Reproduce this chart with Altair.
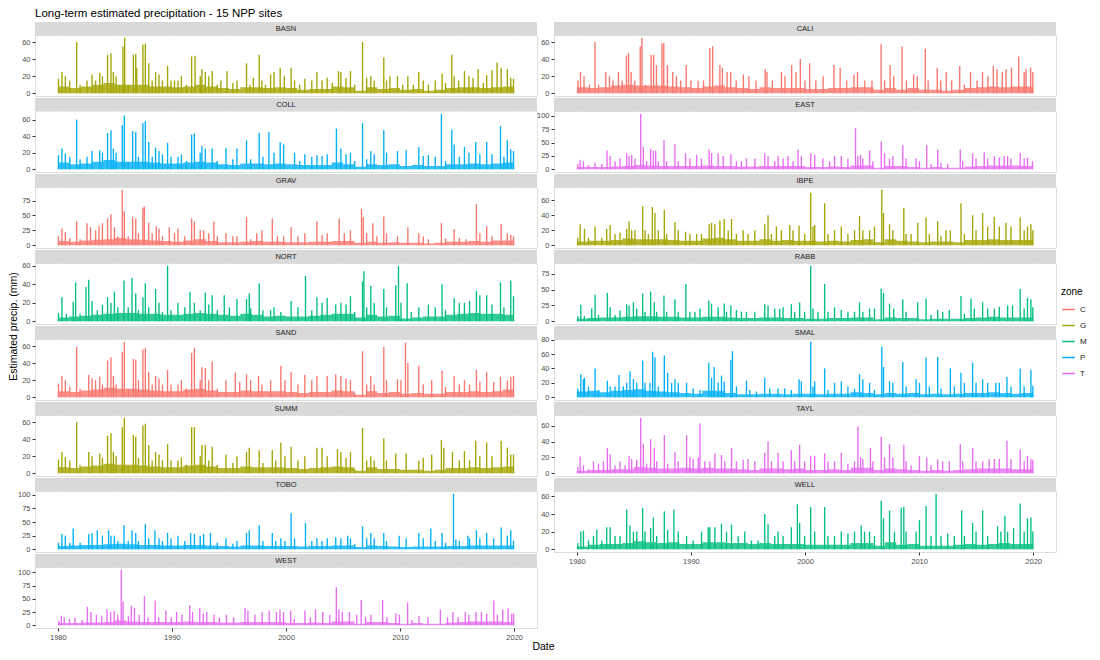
import altair as alt
import pandas as pd

TITLE = "Long-term estimated  precipitation - 15 NPP sites"
SITES = ["BASN", "CALI", "COLL", "EAST", "GRAV", "IBPE", "NORT", "RABB",
         "SAND", "SMAL", "SUMM", "TAYL", "TOBO", "WELL", "WEST"]
ZONE_OF = {"BASN": "G", "CALI": "C", "COLL": "P", "EAST": "T", "GRAV": "C",
           "IBPE": "G", "NORT": "M", "RABB": "M", "SAND": "C", "SMAL": "P",
           "SUMM": "G", "TAYL": "T", "TOBO": "P", "WELL": "M", "WEST": "T"}
ZONES = ["C", "G", "M", "P", "T"]
ZONE_COLORS = ["#F8766D", "#A3A500", "#00BF7D", "#00B0F6", "#E76BF3"]
TICK_STEP = {"BASN": 20, "CALI": 20, "COLL": 20, "EAST": 25, "GRAV": 25,
             "IBPE": 20, "NORT": 20, "RABB": 25, "SAND": 20, "SMAL": 20,
             "SUMM": 20, "TAYL": 20, "TOBO": 25, "WELL": 20, "WEST": 25}
X_TICKS = [1980, 1990, 2000, 2010, 2020]
X_MINOR = [1985, 1995, 2005, 2015]
YEARS = list(range(1980, 2020))

# (decimal year, estimated precip mm) of visible spikes
BASN = [(1980.06,17),(1980.36,25),(1980.66,20),(1981.05,15),(1981.65,60),(1981.95,10),(1982.56,15),(1983.0,22),(1983.31,15),(1983.67,24),(1983.91,20),(1984.36,45),(1984.66,47),(1984.87,25),(1985.11,20),(1985.41,10),(1985.71,55),(1985.86,65),(1986.17,10),(1986.62,45),(1986.83,46),(1986.92,30),(1987.46,57),(1987.67,58),(1987.97,35),(1988.27,15),(1988.57,25),(1988.87,22),(1989.17,15),(1989.62,32),(1989.92,15),(1990.23,15),(1990.53,15),(1990.83,20),(1991.28,10),(1991.73,43),(1992.03,44),(1992.48,20),(1992.63,28),(1992.93,25),(1993.23,20),(1993.53,26),(1993.98,10),(1994.29,15),(1994.83,26),(1995.34,12),(1995.7,15),(1996.54,35),(1996.84,10),(1997.14,18),(1997.65,45),(1997.89,15),(1998.2,10),(1998.65,22),(1998.95,25),(1999.49,30),(1999.85,20),(2000.45,30),(2000.75,15),(2001.2,10),(2001.65,17),(2002.26,15),(2002.71,25),(2003.16,15),(2003.61,18),(2004.06,12),(2004.6,26),(2004.81,25),(2005.26,18),(2005.65,26),(2006.02,10),(2006.71,60),(2007.07,18),(2007.43,20),(2007.73,15),(2008.57,42),(2008.81,15),(2009.11,20),(2009.77,20),(2010.23,10),(2010.68,20),(2011.16,10),(2011.64,25),(2012.03,15),(2012.48,10),(2013.08,15),(2013.68,23),(2013.98,12),(2014.53,45),(2014.74,20),(2015.13,15),(2015.64,26),(2016.03,20),(2016.39,18),(2016.84,28),(2017.29,12),(2017.59,21),(2018.05,27),(2018.5,36),(2018.86,30),(2019.4,28),(2019.7,18),(2019.94,17)]
CALI = [(1980.1,15),(1980.32,25),(1980.63,20),(1981.11,10),(1981.59,60),(1981.9,10),(1982.54,25),(1982.86,20),(1983.17,15),(1983.65,25),(1983.97,15),(1984.35,44),(1984.54,47),(1984.76,25),(1985.08,15),(1985.56,55),(1985.71,65),(1986.03,10),(1986.51,45),(1986.73,45),(1986.98,33),(1987.46,58),(1987.62,59),(1987.94,33),(1988.41,25),(1988.73,20),(1989.11,15),(1989.59,33),(1990.0,15),(1990.63,15),(1991.11,15),(1991.65,53),(1991.9,55),(1992.54,33),(1992.76,30),(1993.17,25),(1993.49,25),(1993.97,15),(1994.6,22),(1995.08,20),(1995.71,15),(1996.51,28),(1996.67,25),(1997.14,15),(1997.94,25),(1998.25,20),(1998.83,33),(1999.21,25),(1999.59,40),(2000.0,15),(2000.41,35),(2000.95,15),(2001.59,20),(2002.54,33),(2003.08,30),(2003.65,15),(2004.29,22),(2004.6,25),(2005.24,15),(2005.87,15),(2006.67,58),(2006.98,15),(2007.46,33),(2007.78,20),(2008.51,55),(2008.89,15),(2009.52,22),(2009.84,20),(2010.54,52),(2010.79,15),(2011.59,30),(2011.9,15),(2012.38,25),(2012.86,15),(2013.56,32),(2013.97,10),(2014.51,25),(2015.08,15),(2015.56,25),(2016.03,20),(2016.51,32),(2016.83,28),(2017.3,25),(2017.62,28),(2018.1,30),(2018.73,43),(2019.21,25),(2019.37,28),(2019.78,30),(2019.97,25)]
COLL = [(1980.06,17),(1980.36,25),(1980.66,19),(1981.05,15),(1981.65,60),(1981.95,12),(1982.56,15),(1983.0,22),(1983.67,23),(1983.91,20),(1984.36,44),(1984.66,47),(1984.87,25),(1985.11,20),(1985.65,53),(1985.83,65),(1986.17,8),(1986.56,46),(1986.83,45),(1987.07,15),(1987.46,56),(1987.67,58),(1987.97,33),(1988.27,15),(1988.57,26),(1988.87,22),(1989.17,18),(1989.62,32),(1989.92,15),(1990.53,15),(1990.83,18),(1991.28,10),(1991.73,42),(1991.97,43),(1992.48,20),(1992.63,28),(1992.93,25),(1993.53,25),(1993.98,10),(1994.74,26),(1995.34,12),(1995.7,25),(1996.54,35),(1996.9,12),(1997.65,44),(1997.98,15),(1998.5,45),(1998.95,20),(1999.49,33),(1999.79,30),(2000.75,20),(2001.2,10),(2001.65,18),(2002.26,15),(2002.71,17),(2003.16,16),(2003.61,18),(2004.42,49),(2004.81,25),(2005.26,18),(2005.65,20),(2006.02,10),(2006.71,56),(2007.07,12),(2007.43,22),(2007.73,18),(2008.57,47),(2008.81,20),(2009.77,22),(2010.53,23),(2011.64,27),(2012.03,16),(2012.48,17),(2013.08,15),(2013.62,67),(2013.98,10),(2014.53,48),(2014.74,30),(2015.19,15),(2015.64,27),(2016.03,20),(2016.63,33),(2016.99,18),(2017.59,33),(2018.05,18),(2018.8,52),(2019.1,15),(2019.4,35),(2019.7,24),(2019.94,22)]
EAST = [(1980.09,10),(1980.29,18),(1980.58,15),(1981.02,8),(1981.6,12),(1982.19,10),(1982.65,35),(1982.92,25),(1983.35,15),(1983.79,20),(1984.37,30),(1984.58,25),(1984.81,27),(1985.1,20),(1985.6,104),(1985.83,42),(1986.12,15),(1986.47,38),(1986.71,35),(1986.91,35),(1987.14,15),(1987.64,55),(1987.87,15),(1988.6,47),(1988.89,15),(1989.53,30),(1989.91,20),(1990.5,27),(1990.93,20),(1991.6,37),(1991.81,30),(1992.39,30),(1992.83,25),(1993.5,28),(1993.99,15),(1994.43,15),(1994.87,20),(1995.6,20),(1996.47,30),(1996.76,25),(1997.35,15),(1997.64,25),(1998.08,20),(1998.51,25),(1998.95,15),(1999.39,37),(1999.68,25),(2000.5,30),(2000.85,27),(2001.57,20),(2002.16,15),(2002.59,25),(2003.18,25),(2003.76,20),(2004.43,77),(2004.64,25),(2004.87,27),(2005.07,20),(2005.66,35),(2005.95,15),(2006.68,52),(2006.97,30),(2007.41,20),(2007.7,25),(2008.57,45),(2008.86,20),(2009.74,20),(2010.03,15),(2010.67,45),(2011.05,10),(2011.63,37),(2011.92,12),(2012.51,10),(2013.61,37),(2013.82,15),(2014.69,30),(2014.99,20),(2015.71,32),(2016.01,20),(2016.59,25),(2017.03,22),(2017.46,25),(2017.76,25),(2018.05,20),(2018.86,30),(2019.21,20),(2019.5,22),(2019.94,15)]
GRAV = [(1980.06,15),(1980.36,28),(1980.66,22),(1981.05,12),(1981.65,40),(1981.95,10),(1982.56,37),(1982.86,30),(1983.31,25),(1983.61,32),(1983.91,37),(1984.36,45),(1984.66,52),(1984.96,30),(1985.26,15),(1985.65,93),(1985.83,57),(1986.17,15),(1986.56,48),(1986.83,45),(1987.07,20),(1987.46,63),(1987.58,65),(1987.97,38),(1988.27,20),(1988.63,32),(1988.87,28),(1989.17,15),(1989.77,30),(1990.23,20),(1990.53,28),(1991.13,15),(1991.73,45),(1991.97,40),(1992.48,25),(1992.78,25),(1993.23,20),(1993.68,40),(1993.98,15),(1994.74,20),(1995.34,15),(1995.7,15),(1996.54,47),(1996.9,10),(1997.44,20),(1997.89,25),(1998.8,45),(1999.25,15),(1999.79,15),(2000.45,30),(2001.05,15),(2001.65,20),(2002.71,40),(2003.16,17),(2003.61,20),(2004.66,45),(2005.11,20),(2005.65,25),(2006.62,61),(2006.77,47),(2007.07,20),(2007.61,37),(2007.97,15),(2008.57,48),(2008.81,20),(2009.77,15),(2010.68,30),(2011.64,20),(2012.03,15),(2012.48,10),(2013.62,37),(2013.98,12),(2014.74,27),(2015.19,12),(2015.79,10),(2016.69,69),(2016.99,20),(2017.59,32),(2018.05,15),(2018.86,35),(2019.4,20),(2019.7,18),(2019.94,15)]
IBPE = [(1980.09,10),(1980.29,28),(1980.67,22),(1981.02,10),(1981.6,25),(1982.19,10),(1982.62,22),(1982.92,27),(1983.35,15),(1983.79,17),(1984.37,22),(1984.58,32),(1984.81,20),(1985.1,20),(1985.77,52),(1985.98,20),(1986.27,15),(1986.62,51),(1986.85,43),(1987.14,20),(1987.67,47),(1987.87,15),(1988.6,31),(1988.89,20),(1989.53,18),(1989.91,15),(1990.5,15),(1990.93,15),(1991.6,28),(1991.81,30),(1992.1,28),(1992.54,33),(1992.92,35),(1993.27,20),(1993.56,35),(1993.99,15),(1994.58,20),(1995.01,15),(1995.6,20),(1996.47,28),(1996.76,40),(1997.06,15),(1997.49,25),(1997.93,20),(1998.66,27),(1998.95,20),(1999.48,26),(1999.97,15),(2000.5,70),(2000.7,25),(2000.85,27),(2001.72,56),(2002.01,15),(2002.59,20),(2003.18,25),(2003.76,15),(2004.34,20),(2004.78,39),(2005.07,20),(2005.66,20),(2006.09,25),(2006.73,74),(2006.88,43),(2007.41,28),(2007.7,20),(2008.66,50),(2008.86,15),(2009.3,15),(2009.88,30),(2010.61,37),(2010.9,15),(2011.63,32),(2011.92,12),(2012.36,20),(2012.74,20),(2013.67,56),(2013.97,15),(2014.69,40),(2014.99,20),(2015.57,43),(2016.01,25),(2016.59,38),(2017.03,25),(2017.61,30),(2018.05,25),(2018.86,37),(2019.21,20),(2019.5,25),(2019.8,28),(2019.97,20)]
NORT = [(1980.06,9),(1980.36,26),(1980.75,8),(1981.35,21),(1981.56,42),(1981.95,8),(1982.47,37),(1982.71,45),(1983.0,22),(1983.46,12),(1983.91,18),(1984.36,26),(1984.66,20),(1984.96,32),(1985.26,15),(1985.8,44),(1986.17,15),(1986.5,47),(1986.83,30),(1987.07,12),(1987.46,26),(1987.67,41),(1987.97,15),(1988.57,35),(1988.87,20),(1989.17,10),(1989.62,60),(1989.92,12),(1990.53,20),(1991.13,15),(1991.58,32),(1991.97,20),(1992.48,12),(1992.93,31),(1993.23,18),(1993.53,28),(1993.98,12),(1994.59,28),(1995.04,15),(1995.7,24),(1996.54,24),(1996.78,30),(1996.9,14),(1997.65,41),(1997.98,12),(1998.65,12),(1998.95,15),(1999.55,10),(2000.45,22),(2001.05,15),(2001.71,49),(2002.26,12),(2002.71,26),(2003.16,20),(2003.61,25),(2004.36,18),(2004.81,20),(2005.26,18),(2005.65,27),(2006.02,10),(2006.71,43),(2006.83,54),(2007.07,15),(2007.43,38),(2007.73,20),(2008.57,35),(2008.81,15),(2009.62,39),(2009.86,60),(2010.08,20),(2010.62,41),(2010.98,10),(2011.64,15),(2012.48,18),(2013.08,15),(2013.68,40),(2013.98,12),(2014.74,25),(2015.19,20),(2015.64,20),(2016.09,22),(2016.69,33),(2016.99,28),(2017.59,28),(2018.05,18),(2018.8,42),(2019.1,15),(2019.7,44),(2019.94,27)]
RABB = [(1980.09,8),(1980.35,26),(1980.67,8),(1981.02,5),(1981.31,20),(1981.6,42),(1981.9,10),(1982.68,45),(1982.92,22),(1983.35,10),(1983.79,17),(1984.37,27),(1984.58,25),(1984.96,30),(1985.25,20),(1985.77,44),(1985.98,15),(1986.47,47),(1986.79,30),(1987.0,15),(1987.64,41),(1987.87,15),(1988.6,35),(1988.89,15),(1989.56,59),(1989.91,15),(1990.35,15),(1990.79,20),(1991.57,33),(1991.81,28),(1992.39,22),(1992.92,28),(1993.12,15),(1993.5,25),(1993.99,18),(1994.43,15),(1994.87,15),(1995.6,15),(1996.47,27),(1996.76,25),(1997.35,20),(1997.78,20),(1998.08,22),(1998.8,27),(1999.1,15),(1999.53,30),(1999.97,15),(2000.5,88),(2000.7,20),(2001.14,15),(2001.72,59),(2002.01,15),(2002.59,22),(2003.18,18),(2003.76,15),(2004.34,15),(2004.78,30),(2005.07,15),(2005.66,20),(2006.09,20),(2006.68,52),(2006.88,45),(2007.41,28),(2007.78,20),(2008.57,35),(2008.86,15),(2009.88,30),(2010.61,36),(2011.05,10),(2011.63,18),(2012.07,15),(2012.65,18),(2013.67,40),(2013.97,12),(2014.55,36),(2014.84,20),(2015.57,30),(2016.01,20),(2016.59,20),(2017.03,23),(2017.76,25),(2018.19,25),(2018.86,51),(2019.21,20),(2019.5,37),(2019.8,35),(2019.97,22)]
SAND = [(1980.06,16),(1980.36,25),(1980.66,20),(1981.05,12),(1981.65,59),(1981.95,10),(1982.71,26),(1983.0,22),(1983.31,20),(1983.67,24),(1983.91,15),(1984.36,43),(1984.66,47),(1984.87,25),(1985.11,15),(1985.65,53),(1985.83,65),(1986.17,10),(1986.62,45),(1986.83,44),(1987.07,20),(1987.46,56),(1987.67,58),(1987.97,30),(1988.27,15),(1988.57,25),(1988.87,22),(1989.17,15),(1989.62,32),(1989.92,15),(1990.53,15),(1990.83,20),(1991.28,10),(1991.73,52),(1991.97,58),(1992.48,20),(1992.63,35),(1992.93,34),(1993.23,20),(1993.53,42),(1993.98,10),(1994.74,20),(1995.55,29),(1995.94,18),(1996.54,27),(1996.9,20),(1997.59,25),(1997.89,15),(1998.65,20),(1999.55,37),(1999.91,20),(2000.45,30),(2001.05,15),(2001.65,26),(2002.26,20),(2002.71,25),(2003.61,25),(2004.36,27),(2004.81,25),(2005.26,22),(2005.65,20),(2006.02,5),(2006.71,54),(2007.07,15),(2007.43,25),(2007.73,15),(2008.57,59),(2008.81,20),(2009.77,21),(2010.08,20),(2010.47,64),(2010.68,40),(2011.64,37),(2012.03,15),(2012.77,20),(2013.68,31),(2013.98,12),(2014.74,25),(2015.19,15),(2015.64,20),(2016.09,15),(2016.69,32),(2016.99,18),(2017.59,30),(2018.2,18),(2018.8,24),(2019.4,20),(2019.7,24),(2019.94,25)]
SMAL = [(1980.09,12),(1980.35,32),(1980.58,25),(1980.67,27),(1981.02,15),(1981.6,40),(1981.9,10),(1982.68,23),(1982.92,15),(1983.35,15),(1983.7,31),(1984.08,15),(1984.37,20),(1984.66,36),(1984.96,25),(1985.25,20),(1985.77,51),(1985.98,20),(1986.41,20),(1986.65,63),(1986.85,55),(1987.14,15),(1987.67,58),(1987.96,34),(1988.31,20),(1988.6,25),(1988.89,20),(1989.62,20),(1990.2,12),(1990.79,10),(1991.57,48),(1991.81,27),(1992.04,42),(1992.39,20),(1992.68,30),(1992.92,22),(1993.5,52),(1993.64,64),(1993.99,15),(1994.87,23),(1995.16,10),(1995.74,8),(1996.47,27),(1996.91,12),(1997.64,12),(1998.22,12),(1998.8,10),(1999.48,25),(1999.68,22),(2000.5,77),(2000.7,15),(2000.85,22),(2001.72,40),(2002.01,10),(2002.59,20),(2003.18,22),(2003.76,15),(2004.34,12),(2004.78,32),(2005.07,25),(2005.66,20),(2006.09,10),(2006.73,70),(2006.88,42),(2007.41,22),(2007.7,20),(2008.57,49),(2008.86,15),(2009.74,25),(2010.03,20),(2010.61,55),(2010.9,15),(2011.63,56),(2011.92,12),(2012.74,40),(2013.09,15),(2013.67,34),(2013.97,20),(2014.69,48),(2014.99,20),(2015.57,25),(2016.01,20),(2016.73,20),(2017.03,20),(2017.7,28),(2018.05,15),(2018.86,40),(2019.21,15),(2019.8,38),(2019.97,16)]
SUMM = [(1980.06,16),(1980.36,25),(1980.66,19),(1981.05,15),(1981.65,60),(1981.95,10),(1982.71,25),(1983.0,20),(1983.67,23),(1983.91,18),(1984.36,44),(1984.66,47),(1984.87,25),(1985.11,20),(1985.65,54),(1985.83,65),(1986.17,8),(1986.62,45),(1986.83,43),(1987.07,18),(1987.46,56),(1987.67,58),(1987.97,33),(1988.27,15),(1988.57,25),(1988.87,22),(1989.17,15),(1989.62,34),(1989.92,15),(1990.53,15),(1990.83,18),(1991.28,10),(1991.73,54),(1991.97,54),(1992.48,20),(1992.63,33),(1992.93,33),(1993.23,15),(1993.53,31),(1993.98,10),(1994.74,22),(1995.34,12),(1995.7,20),(1996.54,25),(1996.78,30),(1997.65,27),(1997.98,12),(1998.8,27),(1999.1,15),(1999.55,36),(1999.91,20),(2000.45,31),(2001.05,15),(2001.65,20),(2002.71,30),(2003.16,30),(2003.61,20),(2004.51,28),(2004.81,25),(2005.26,18),(2005.65,25),(2006.02,5),(2006.71,53),(2007.07,15),(2007.43,20),(2007.73,15),(2008.57,41),(2008.81,15),(2009.62,23),(2010.53,23),(2011.64,15),(2012.03,18),(2012.77,22),(2013.62,39),(2013.83,30),(2014.59,25),(2015.19,15),(2015.64,26),(2016.09,15),(2016.63,38),(2016.99,20),(2017.59,36),(2018.05,20),(2018.86,38),(2019.4,30),(2019.7,22),(2019.94,22)]
TAYL = [(1980.09,8),(1980.29,21),(1980.58,10),(1981.02,5),(1981.46,15),(1981.9,12),(1982.33,15),(1982.68,32),(1982.92,24),(1983.35,10),(1983.79,15),(1984.23,10),(1984.58,22),(1984.81,18),(1985.25,17),(1985.6,70),(1985.83,37),(1986.12,12),(1986.47,43),(1986.79,32),(1987.0,15),(1987.67,48),(1987.96,12),(1988.6,27),(1988.89,15),(1989.62,48),(1989.91,20),(1990.2,18),(1990.64,20),(1990.79,63),(1991.22,15),(1991.66,15),(1992.1,25),(1992.68,23),(1992.97,15),(1993.56,32),(1993.99,15),(1994.58,17),(1995.01,18),(1995.6,15),(1996.47,26),(1996.76,40),(1997.06,15),(1997.64,26),(1998.08,15),(1998.8,29),(1999.1,15),(1999.53,36),(1999.97,15),(2000.5,22),(2000.85,22),(2001.72,25),(2002.01,15),(2002.59,15),(2003.18,26),(2003.76,12),(2004.34,15),(2004.64,59),(2004.87,20),(2005.07,18),(2005.74,32),(2005.95,15),(2006.68,46),(2006.97,20),(2007.41,37),(2007.7,20),(2008.66,36),(2008.86,15),(2009.3,10),(2010.03,22),(2010.67,20),(2011.05,10),(2011.63,17),(2012.07,15),(2012.65,15),(2013.61,37),(2013.82,15),(2014.69,32),(2014.99,15),(2015.57,15),(2016.15,18),(2016.59,18),(2017.03,18),(2017.7,41),(2018.05,18),(2018.86,30),(2019.21,15),(2019.5,22),(2019.8,18),(2019.97,17)]
TOBO = [(1980.06,12),(1980.36,28),(1980.66,25),(1981.05,12),(1981.35,38),(1981.95,12),(1982.71,28),(1983.0,30),(1983.46,35),(1983.91,25),(1984.45,35),(1984.66,25),(1984.96,25),(1985.26,15),(1985.8,44),(1986.17,15),(1986.5,35),(1986.83,30),(1987.07,15),(1987.67,46),(1987.97,20),(1988.51,35),(1988.87,20),(1989.17,15),(1989.62,30),(1989.92,20),(1990.53,25),(1991.13,15),(1991.64,30),(1991.97,28),(1992.48,25),(1992.78,28),(1993.38,30),(1993.98,12),(1994.74,20),(1995.34,10),(1995.7,15),(1996.54,30),(1996.78,35),(1997.65,44),(1997.98,15),(1998.8,30),(1999.1,15),(1999.55,20),(1999.91,15),(2000.45,66),(2000.75,20),(2001.71,48),(2002.26,15),(2002.71,20),(2003.16,15),(2003.61,20),(2004.36,22),(2004.81,20),(2005.41,25),(2005.65,20),(2006.02,10),(2006.71,42),(2007.07,20),(2007.43,30),(2007.73,20),(2008.57,30),(2008.81,15),(2009.92,25),(2010.53,20),(2011.64,30),(2012.03,20),(2012.69,38),(2013.08,15),(2013.68,30),(2013.98,12),(2014.68,102),(2014.89,18),(2015.19,15),(2015.94,25),(2016.09,20),(2016.69,35),(2016.99,20),(2017.59,30),(2018.2,20),(2018.86,40),(2019.4,25),(2019.7,35),(2019.94,16)]
WELL = [(1980.09,7),(1980.35,20),(1980.58,21),(1981.02,10),(1981.46,15),(1981.75,22),(1982.19,10),(1982.62,25),(1982.92,25),(1983.35,15),(1983.79,15),(1984.37,45),(1984.66,27),(1984.96,20),(1985.25,20),(1985.77,47),(1985.98,20),(1986.47,24),(1986.71,36),(1987.0,15),(1987.67,43),(1987.96,22),(1988.51,45),(1988.89,20),(1989.62,15),(1990.2,10),(1990.93,20),(1991.52,25),(1991.66,25),(1992.1,25),(1992.68,29),(1993.12,20),(1993.56,28),(1994.14,15),(1994.72,20),(1995.31,10),(1995.89,10),(1996.47,40),(1996.76,29),(1997.35,15),(1997.64,20),(1998.08,15),(1998.8,25),(1999.33,51),(1999.53,30),(1999.97,15),(2000.5,48),(2000.85,20),(2001.72,48),(2002.01,15),(2002.59,15),(2003.18,20),(2003.76,18),(2004.34,20),(2004.93,27),(2005.22,20),(2005.66,20),(2006.09,15),(2006.68,55),(2006.88,35),(2007.41,44),(2007.84,20),(2008.43,47),(2008.66,48),(2008.86,20),(2009.74,20),(2010.03,33),(2010.61,49),(2011.05,15),(2011.49,63),(2011.92,15),(2012.51,18),(2013.09,15),(2013.73,44),(2013.97,15),(2014.69,30),(2014.99,20),(2015.57,44),(2016.01,15),(2016.88,26),(2017.17,20),(2017.52,38),(2017.76,20),(2018.28,24),(2018.86,52),(2019.21,20),(2019.5,35),(2019.8,36),(2019.97,20)]
WEST = [(1980.09,8),(1980.31,18),(1980.56,15),(1981.03,12),(1981.5,14),(1982.13,10),(1982.59,35),(1982.91,25),(1983.38,20),(1983.84,18),(1984.31,30),(1984.63,25),(1984.94,27),(1985.25,20),(1985.56,105),(1985.72,45),(1986.19,18),(1986.44,37),(1986.72,33),(1987.13,20),(1987.59,55),(1987.91,15),(1988.53,47),(1988.84,15),(1989.47,28),(1989.94,15),(1990.41,25),(1990.88,20),(1991.56,38),(1991.81,25),(1992.44,32),(1992.75,22),(1993.06,25),(1993.69,20),(1994.16,15),(1994.78,20),(1995.41,15),(1996.41,32),(1996.66,28),(1997.28,20),(1997.91,25),(1998.53,28),(1999.16,25),(1999.47,30),(1999.78,25),(2000.41,28),(2000.72,12),(2001.66,28),(2002.13,15),(2002.59,30),(2003.22,25),(2003.84,20),(2004.41,72),(2004.63,30),(2004.94,25),(2005.56,25),(2006.19,20),(2006.59,48),(2006.97,15),(2007.44,20),(2008.47,48),(2008.84,15),(2009.63,22),(2009.94,20),(2010.66,43),(2011.03,10),(2011.66,18),(2012.44,15),(2013.53,30),(2014.16,15),(2014.63,25),(2015.09,15),(2015.72,25),(2016.03,20),(2016.66,25),(2017.13,25),(2017.59,22),(2018.22,47),(2018.53,20),(2019.0,30),(2019.47,32),(2019.78,22),(2019.95,22)]

# typical daily level per year (dense low-value fill), 1980..2019
BASE_BASN = [8,6,8,10,12,10,10,10,8,8,7,8,10,8,6,5,7,7,6,7,6,4,5,5,8,7,3,7,5,6,4,5,3,4,6,7,7,6,7,8]
BASE_CALI = [7,6,7,9,10,9,9,9,8,7,6,8,9,7,6,5,7,6,6,6,5,5,6,6,7,7,4,6,4,6,4,4,3,4,6,7,8,7,8,8]
BASE_COLL = [8,6,7,9,11,9,9,9,8,7,7,8,9,8,6,5,7,7,6,7,6,5,5,5,8,6,3,6,5,6,4,5,4,4,6,6,7,6,7,8]
BASE_EAST = [4,4,4,5,6,8,7,6,6,6,6,7,6,6,5,5,6,6,6,6,4,4,5,4,7,7,3,6,6,4,3,4,3,3,5,6,7,7,7,6]
BASE_GRAV = [7,6,8,9,10,12,10,9,8,7,6,8,10,7,5,5,6,7,6,6,5,5,6,6,7,7,4,6,4,5,4,4,3,4,6,6,7,6,8,8]
BASE_IBPE = [5,6,6,7,9,8,8,8,7,6,6,9,10,8,6,6,8,6,7,6,6,5,6,5,7,8,4,8,6,5,4,5,5,4,7,7,8,7,7,7]
BASE_NORT = [4,5,6,7,8,9,9,8,8,7,7,8,9,8,7,6,8,7,5,6,5,5,6,7,8,8,4,7,5,6,3,4,5,5,7,8,9,8,8,7]
BASE_RABB = [4,5,6,6,7,8,8,7,7,6,6,7,7,6,5,5,6,6,5,5,4,4,5,5,6,6,3,6,5,5,3,4,4,4,5,6,7,6,6,6]
BASE_SAND = [7,6,8,9,11,10,10,9,8,7,7,9,10,8,6,6,8,7,7,7,6,5,6,6,8,7,3,7,5,6,4,5,4,4,6,6,7,6,7,9]
BASE_SMAL = [8,9,7,9,10,11,9,8,7,6,5,9,9,6,4,4,5,5,4,5,5,4,5,5,7,6,4,6,5,6,4,5,4,5,6,6,7,6,5,6]
BASE_SUMM = [7,6,8,9,11,10,10,9,8,7,7,9,10,8,6,6,8,7,7,7,6,5,6,7,8,7,3,7,5,5,4,4,3,4,6,6,7,6,7,8]
BASE_TAYL = [3,4,4,5,5,8,7,6,6,7,6,7,6,6,5,4,6,6,5,6,4,4,5,4,7,7,4,6,5,4,3,4,3,4,5,6,6,6,5,5]
BASE_TOBO = [6,7,8,8,9,10,9,8,8,7,7,8,8,7,6,5,7,7,6,6,6,5,6,6,7,7,4,7,6,5,4,5,5,5,6,6,7,7,7,7]
BASE_WELL = [3,5,6,6,7,9,8,7,8,6,6,8,8,7,7,6,7,6,6,6,5,5,5,5,7,7,4,8,5,6,4,4,4,5,6,5,6,7,6,6]
BASE_WEST = [4,4,5,5,6,9,7,6,6,6,6,7,6,6,5,5,6,6,6,6,4,4,5,4,7,7,3,6,6,4,3,4,3,3,5,6,7,7,7,6]

SPIKES = {"BASN": BASN, "CALI": CALI, "COLL": COLL, "EAST": EAST, "GRAV": GRAV,
          "IBPE": IBPE, "NORT": NORT, "RABB": RABB, "SAND": SAND, "SMAL": SMAL,
          "SUMM": SUMM, "TAYL": TAYL, "TOBO": TOBO, "WELL": WELL, "WEST": WEST}
BASE = {"BASN": BASE_BASN, "CALI": BASE_CALI, "COLL": BASE_COLL, "EAST": BASE_EAST,
        "GRAV": BASE_GRAV, "IBPE": BASE_IBPE, "NORT": BASE_NORT, "RABB": BASE_RABB,
        "SAND": BASE_SAND, "SMAL": BASE_SMAL, "SUMM": BASE_SUMM, "TAYL": BASE_TAYL,
        "TOBO": BASE_TOBO, "WELL": BASE_WELL, "WEST": BASE_WEST}

W, H, STRIP = 502, 61, 13
FONT = "Liberation Sans"


def panel(site):
    zone = ZONE_OF[site]
    col = ZONE_COLORS[ZONES.index(zone)]
    df = pd.DataFrame(SPIKES[site], columns=["year", "precip"])
    df["zone"] = zone
    df["zero"] = 0
    b = BASE[site]
    bdf = pd.DataFrame({"year": YEARS + [2020], "precip": b + [b[-1]]})
    bdf["zero"] = 0
    ymax = float(df["precip"].max())
    top = ymax * 1.05
    step = TICK_STEP[site]
    ticks = list(range(0, int(top) + 1, step))
    minor = [t + step / 2 for t in range(0, int(top) + 1, step) if t + step / 2 <= top]

    xs = alt.Scale(domain=[1978, 2022], nice=False, zero=False)
    ys = alt.Scale(domain=[-0.05 * ymax, top], nice=False, zero=False)
    bottom = site in ("WEST", "WELL")
    xaxis = alt.Axis(values=X_TICKS, format="d", grid=True, gridColor="white",
                     gridWidth=1.1, domain=False, labels=bottom, ticks=bottom,
                     tickColor="#333333", tickSize=3, labelFontSize=7.5,
                     labelColor="#4D4D4D", labelPadding=2,
                     title="Date" if site == "WEST" else None,
                     titleX=508, titleFontSize=10.5, titleFontWeight="normal",
                     titleColor="#000000", titlePadding=1)
    yaxis = alt.Axis(values=ticks, grid=True, gridColor="white", gridWidth=1.1,
                     domain=False, tickColor="#333333", tickSize=3,
                     labelFontSize=7.5, labelColor="#4D4D4D", labelPadding=2,
                     title="Estimated precip. (mm)" if site == "NORT" else None,
                     titleY=63, titleFontSize=10.5, titleFontWeight="normal",
                     titleColor="#000000", titlePadding=3)

    def X(f):
        return alt.X(f, scale=xs, axis=xaxis)

    def Y(f):
        return alt.Y(f, scale=ys, axis=yaxis)

    vgrid = alt.Chart(pd.DataFrame({"v": X_MINOR})).mark_rule(
        color="white", strokeWidth=0.5).encode(x=X("v:Q"))
    hgrid = alt.Chart(pd.DataFrame({"h": minor})).mark_rule(
        color="white", strokeWidth=0.5).encode(y=Y("h:Q"))
    base = alt.Chart(bdf).mark_area(interpolate="step-after", color=col,
                                     opacity=0.8).encode(
        x=X("year:Q"), y=Y("precip:Q"), y2="zero:Q")
    spikes = alt.Chart(df).mark_rule(strokeWidth=1.35).encode(
        x=X("year:Q"), y=Y("precip:Q"), y2="zero:Q",
        color=alt.Color("zone:N", scale=alt.Scale(domain=ZONES, range=ZONE_COLORS),
                        legend=alt.Legend(title="zone", orient="none", legendX=1026,
                                          legendY=252, symbolType="stroke",
                                          symbolStrokeWidth=1.5, symbolSize=160,
                                          labelFontSize=8, titleFontSize=10,
                                          titleFontWeight="normal", rowPadding=4,
                                          labelColor="#1A1A1A", titleColor="#000000")))
    strip_data = alt.Data(values=[{"s": site}])
    strip = alt.Chart(strip_data).mark_rect(color="#D9D9D9").encode(
        x=alt.value(0), x2=alt.value(W), y=alt.value(-STRIP), y2=alt.value(0))
    label = alt.Chart(strip_data).mark_text(fontSize=7.5, color="#1A1A1A",
                                            baseline="middle", font=FONT).encode(
        x=alt.value(W / 2), y=alt.value(-STRIP / 2), text=alt.value(site))
    return alt.layer(vgrid, hgrid, base, spikes, strip, label).properties(
        width=W, height=H)


chart = alt.concat(
    *[panel(s) for s in SITES], columns=2,
    spacing={"row": 15, "column": 17}, bounds="flush",
).resolve_scale(
    x="independent", y="independent", color="shared"
).resolve_legend(color="shared").properties(
    title=alt.TitleParams(TITLE, anchor="start", frame="group", fontSize=11.5,
                          fontWeight="normal", color="#000000", offset=2, font=FONT),
    padding={"left": 0, "top": 0, "right": 0, "bottom": 0},
).configure_view(fill="#EBEBEB", strokeWidth=0).configure(font=FONT)

chart.save("out.html", embed_options={"renderer": "svg", "actions": False})
